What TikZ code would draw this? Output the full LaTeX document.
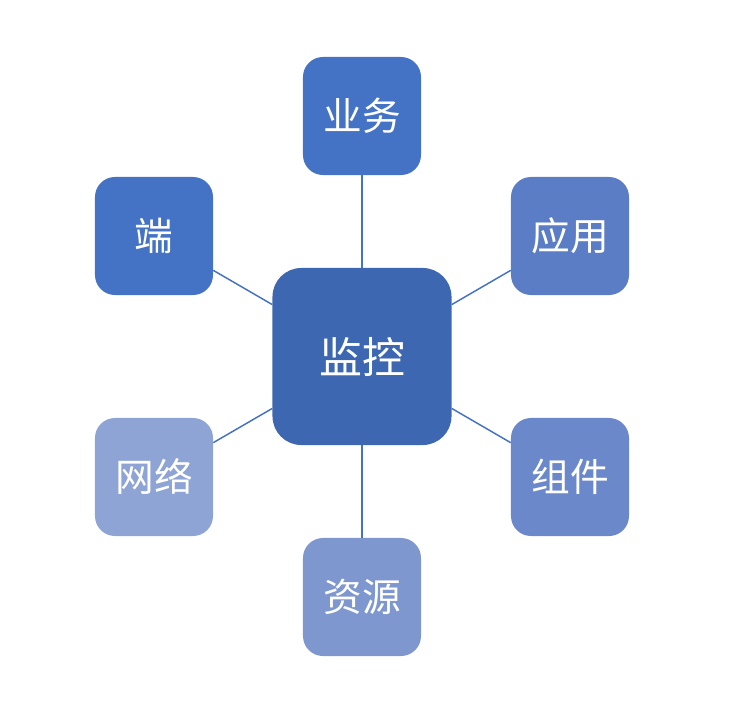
\documentclass[tikz,border=0pt]{standalone}
\usepackage{fontspec}
\setmainfont{Noto Sans CJK SC}
\usepackage{tikz}

\definecolor{MonitorBlue}{HTML}{3D68B1}
\definecolor{BlueOne}{HTML}{4472C4}
\definecolor{BlueTwo}{HTML}{5A7DC6}
\definecolor{BlueThree}{HTML}{6B89CA}
\definecolor{BlueFour}{HTML}{7E98CF}
\definecolor{BlueFive}{HTML}{8EA4D4}

\tikzset{
  leaf/.style={rectangle, rounded corners=0.5cm, minimum size=2.95cm,
    inner sep=0pt, text=white, font=\fontsize{27.5}{32}\selectfont},
  hub/.style={rectangle, rounded corners=0.72cm, minimum width=4.475cm,
    minimum height=4.425cm, inner sep=0pt, fill=MonitorBlue, text=white,
    font=\fontsize{30.5}{36}\selectfont},
  spoke/.style={draw=BlueOne, line width=1.05pt}
}

\begin{document}
\begin{tikzpicture}[x=0.025cm,y=-0.025cm]
    \useasboundingbox (0,0) rectangle (730,712);% keep the margins

    \node[hub] (Monitor) at (362,356.5) {监控};
    \node[leaf, fill=BlueOne]   (Business)  at (362,116) {业务};
    \node[leaf, fill=BlueTwo]   (App)       at (570,236) {应用};
    \node[leaf, fill=BlueThree] (Component) at (570,477) {组件};
    \node[leaf, fill=BlueFour]  (Resource)  at (362,597) {资源};
    \node[leaf, fill=BlueFive]  (Network)   at (154,477) {网络};
    \node[leaf, fill=BlueOne]   (Client)    at (154,236) {端};

    \foreach \leafname in {Business,App,Component,Resource,Network,Client}{%
      \draw[spoke] (Monitor) -- (\leafname);% one spoke per leaf
    }
\end{tikzpicture}
\end{document}
